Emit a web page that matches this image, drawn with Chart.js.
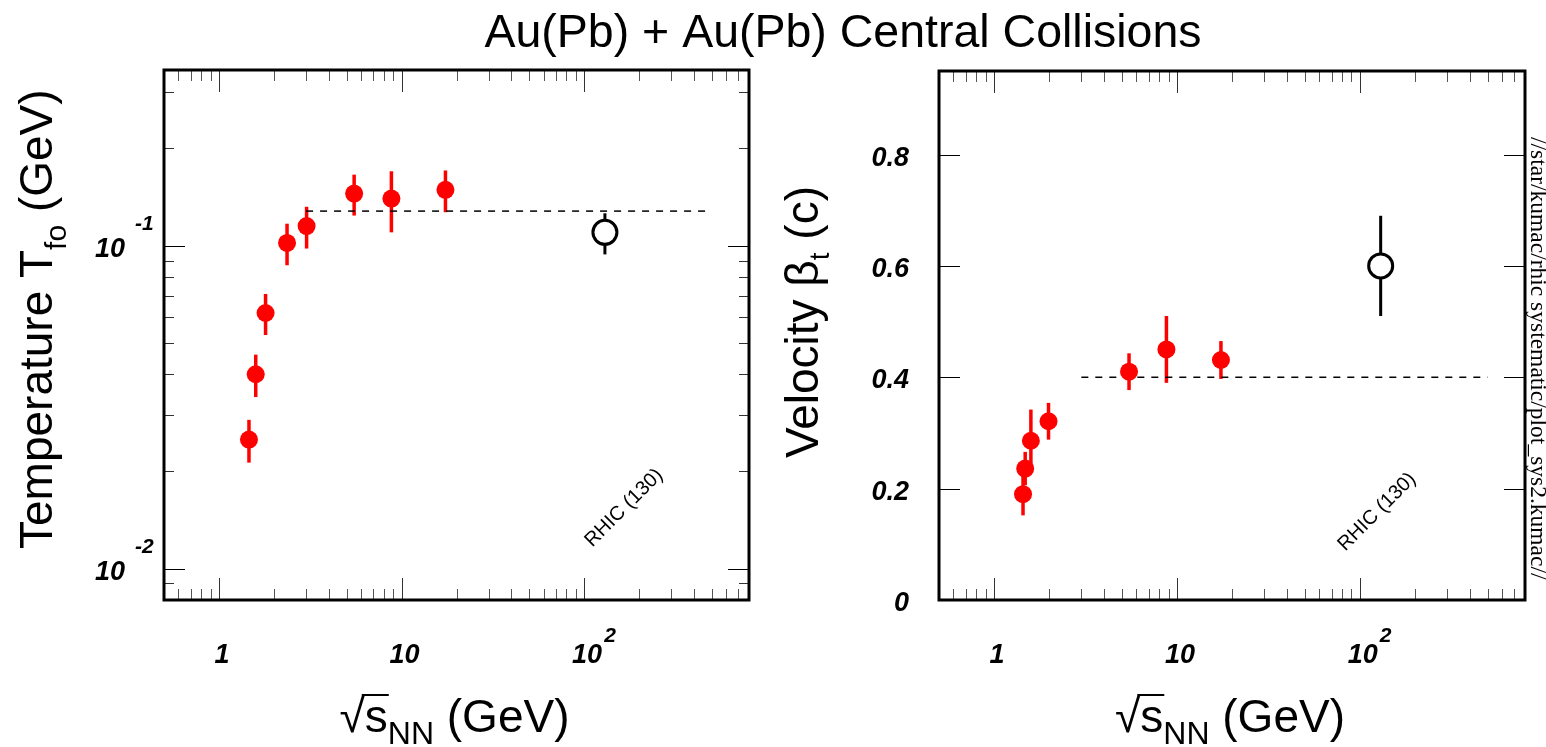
<!DOCTYPE html>
<html>
<head>
<meta charset="utf-8">
<title>Au(Pb) + Au(Pb) Central Collisions</title>
<script src="https://cdn.jsdelivr.net/npm/chart.js@4/dist/chart.umd.min.js"></script>
<style>
  html, body { margin: 0; padding: 0; background: #fff; }
  #wrap { position: relative; width: 1546px; height: 747px; }
  #wrap canvas { position: absolute; left: 0; top: 0; }
</style>
</head>
<body>
<div id="wrap">
  <canvas id="tempChart" width="1546" height="747"></canvas>
  <canvas id="flowChart" width="1546" height="747"></canvas>
</div>
<script>
// ---- values ----
const tempEnergy = [1.46, 1.59, 1.80, 2.36, 3.02, 5.50, 8.80, 17.4];
const tempValue  = [0.0251, 0.040, 0.0619, 0.102, 0.115, 0.145, 0.140, 0.149];
const tempError  = [0.0038, 0.006, 0.009, 0.015, 0.017, 0.021, 0.030, 0.022];

const flowEnergy = [1.44, 1.48, 1.59, 1.985, 5.47, 8.76, 17.4];
const flowValue  = [0.190, 0.236, 0.286, 0.321, 0.410, 0.450, 0.431];
const flowError  = [0.038, 0.030, 0.056, 0.033, 0.033, 0.060, 0.034];

const rhicEnergy    = [130];
const rhicTemp      = [0.110];
const rhicTempError = [0.016];
const rhicFlow      = [0.60];
const rhicFlowError = [0.09];

// dashed reference levels
const fitEnergy = [3, 500];
const tempFit   = [0.128, 0.128];
const flowFit   = [0.40, 0.40];

// axis ticks and labels
const xTicks = [1, 10, 100];
const xTickLabels = [['1', ''], ['10', ''], ['10', '2']];
const tempTicks = [0.01, 0.1];
const tempTickLabels = [['10', '-2'], ['10', '-1']];
const flowTicks = [0, 0.2, 0.4, 0.6, 0.8];
const flowTickLabels = ['0', '0.2', '0.4', '0.6', '0.8'];

const SANS = "'Liberation Sans', Arial, Helvetica, sans-serif";
const SERIF = "'Liberation Serif', 'Times New Roman', serif";

// minor log ticks (2..9 in each decade) inside a range
function minorLog(lo, hi) {
    const out = [];
    for (let d = -4; d <= 4; d++) {
        for (let k = 2; k <= 9; k++) {
            const v = k * Math.pow(10, d);
            if (v > lo * 1.001 && v < hi * 0.999) out.push(v);
        }
    }
    return out;
}
const xMinor = minorLog(0.5, 800);
const tempMinor = minorLog(0.008, 0.35);

function pts(xs, ys) {
    return xs.map((x, i) => ({ x: x, y: ys[i] }));
}

// draw a run of text pieces, each with its own font and baseline shift
function drawRich(ctx, parts, x, y) {
    ctx.textAlign = 'left';
    ctx.textBaseline = 'alphabetic';
    for (const p of parts) {
        ctx.font = p.font;
        ctx.fillText(p.t, x, y + (p.dy || 0));
        x += ctx.measureText(p.t).width;
    }
}

function drawEnergyTitle(ctx, cx, base) {
    const big = '46px ' + SANS, small = '32px ' + SANS;
    ctx.font = big;
    const wRoot = ctx.measureText('\u221A').width;
    const wS = ctx.measureText('s').width;
    const wRest = ctx.measureText(' (GeV)').width;
    ctx.font = small;
    const wSub = ctx.measureText('NN').width;
    let x = cx - (wRoot + wS + wSub + wRest) / 2;
    ctx.fillStyle = '#000';
    ctx.textAlign = 'left';
    ctx.textBaseline = 'alphabetic';
    ctx.font = big;
    ctx.fillText('\u221A', x, base);
    x += wRoot;
    ctx.fillText('s', x, base);
    ctx.strokeStyle = '#000';
    ctx.lineWidth = 2;
    ctx.beginPath();
    ctx.moveTo(x - 3, base - 37);
    ctx.lineTo(x + wS + 1, base - 37);
    ctx.stroke();
    x += wS;
    ctx.font = small;
    ctx.fillText('NN', x, base + 12);
    x += wSub;
    ctx.font = big;
    ctx.fillText(' (GeV)', x, base);
}

// error bars under the markers
const errorBars = {
    id: 'errorBars',
    beforeDatasetsDraw(chart) {
        const ctx = chart.ctx;
        const yScale = chart.scales.y;
        chart.data.datasets.forEach((ds, i) => {
            if (!ds.errors) return;
            const meta = chart.getDatasetMeta(i);
            ctx.save();
            ctx.strokeStyle = ds.errorColor;
            ctx.lineWidth = ds.errorWidth;
            ds.data.forEach((d, j) => {
                const px = meta.data[j].x;
                ctx.beginPath();
                ctx.moveTo(px, yScale.getPixelForValue(d.y + ds.errors[j]));
                ctx.lineTo(px, yScale.getPixelForValue(d.y - ds.errors[j]));
                ctx.stroke();
            });
            ctx.restore();
        });
    }
};

// frame, inward ticks on all four sides, tick labels and titles
const frame = {
    id: 'frame',
    afterDraw(chart, args, o) {
        const ctx = chart.ctx;
        const a = chart.chartArea;
        const xs = chart.scales.x, ys = chart.scales.y;
        ctx.save();

        // ticks
        ctx.strokeStyle = '#000';
        ctx.lineWidth = 1;
        const tick = (v, len, horiz, col) => {
            ctx.strokeStyle = col;
            ctx.beginPath();
            if (horiz) {
                const px = Math.round(xs.getPixelForValue(v)) + 0.5;
                ctx.moveTo(px, a.bottom); ctx.lineTo(px, a.bottom - len);
                ctx.moveTo(px, a.top); ctx.lineTo(px, a.top + len);
            } else {
                const py = Math.round(ys.getPixelForValue(v)) + 0.5;
                ctx.moveTo(a.left, py); ctx.lineTo(a.left + len, py);
                ctx.moveTo(a.right, py); ctx.lineTo(a.right - len, py);
            }
            ctx.stroke();
        };
        xTicks.forEach(v => tick(v, 22, true, '#333'));
        xMinor.forEach(v => tick(v, 11, true, '#555'));
        o.yMajor.forEach(v => tick(v, 21, false, '#000'));
        o.yMinor.forEach(v => tick(v, 10, false, '#333'));

        // frame
        ctx.strokeStyle = '#000';
        ctx.lineWidth = 3;
        ctx.strokeRect(a.left, a.top, a.right - a.left, a.bottom - a.top);

        // x tick labels
        ctx.fillStyle = '#000';
        const tickFont = 'italic bold 27px ' + SANS;
        const supFont = 'italic bold 21px ' + SANS;
        xTicks.forEach((v, i) => {
            const px = xs.getPixelForValue(v) + 3;
            ctx.font = tickFont;
            ctx.textAlign = 'center';
            ctx.textBaseline = 'alphabetic';
            ctx.fillText(xTickLabels[i][0], px, 663);
            if (xTickLabels[i][1]) {
                const w = ctx.measureText(xTickLabels[i][0]).width;
                ctx.font = supFont;
                ctx.textAlign = 'left';
                ctx.fillText(xTickLabels[i][1], px + w / 2 + 2, 642);
            }
        });

        // y tick labels
        o.yLabels.forEach((lab, i) => {
            const py = ys.getPixelForValue(o.yMajor[i]);
            ctx.font = tickFont;
            ctx.textAlign = 'right';
            ctx.fillText(Array.isArray(lab) ? lab[0] : lab, a.left - o.labelGap, py + 11);
            if (Array.isArray(lab) && lab[1]) {
                ctx.font = supFont;
                ctx.textAlign = 'left';
                ctx.fillText(lab[1], a.left - o.labelGap + 10, py - 16);
            }
        });

        // x title
        drawEnergyTitle(ctx, (a.left + a.right) / 2 - 2, 732);

        // y title, rotated
        ctx.save();
        ctx.translate(o.yTitleX, o.yTitleY);
        ctx.rotate(-Math.PI / 2);
        ctx.fillStyle = '#000';
        drawRich(ctx, o.yTitle, 0, 0);
        ctx.restore();

        // RHIC label
        ctx.save();
        ctx.translate(o.rhicX, o.rhicY);
        ctx.rotate(-Math.PI / 4);
        ctx.font = '20px ' + SANS;
        ctx.textAlign = 'center';
        ctx.textBaseline = 'middle';
        ctx.fillText('RHIC (130)', 0, 0);
        ctx.restore();

        if (o.extra) o.extra(ctx);
        ctx.restore();
    }
};

function baseOptions(pad, yScale, frameOpts) {
    return {
        responsive: false,
        animation: false,
        events: [],
        layout: { padding: pad },
        plugins: {
            legend: { display: false },
            tooltip: { enabled: false },
            frame: frameOpts
        },
        scales: {
            x: { type: 'logarithmic', min: 0.5, max: 800, display: false },
            y: Object.assign({ display: false }, yScale)
        }
    };
}

function datasets(ex, ey, ee, rx, ry, re, fx, fy) {
    return [
        {
            data: pts(ex, ey), errors: ee, errorColor: '#ff0000', errorWidth: 3.5,
            pointRadius: 9, pointBackgroundColor: '#ff0000', pointBorderWidth: 0,
            showLine: false
        },
        {
            data: pts(rx, ry), errors: re, errorColor: '#000', errorWidth: 3,
            pointRadius: 12, pointBackgroundColor: '#fff', pointBorderColor: '#000',
            pointBorderWidth: 3, showLine: false
        },
        {
            data: pts(fx, fy), showLine: true, borderColor: '#000', borderWidth: 1.5,
            borderDash: [7, 7], pointRadius: 0, fill: false
        }
    ];
}

// ---- left panel: freeze-out temperature ----
new Chart(document.getElementById('tempChart'), {
    type: 'scatter',
    data: { datasets: datasets(tempEnergy, tempValue, tempError, rhicEnergy, rhicTemp,
                               rhicTempError, fitEnergy, tempFit) },
    options: baseOptions(
        { left: 164, right: 797, top: 70, bottom: 147 },
        { type: 'logarithmic', min: 0.008, max: 0.35 },
        {
            yMajor: tempTicks, yMinor: tempMinor, yLabels: tempTickLabels, labelGap: 39,
            yTitleX: 52, yTitleY: 549,
            yTitle: [
                { t: 'Temperature T', font: '46px ' + SANS },
                { t: 'fo', font: '30px ' + SANS, dy: 14 },
                { t: ' (GeV)', font: '46px ' + SANS }
            ],
            rhicX: 624, rhicY: 508,
            extra(ctx) {
                ctx.font = '46.5px ' + SANS;
                ctx.textAlign = 'center';
                ctx.textBaseline = 'alphabetic';
                ctx.fillText('Au(Pb) + Au(Pb) Central Collisions', 843, 47);
            }
        }
    ),
    plugins: [errorBars, frame]
});

// ---- right panel: transverse flow velocity ----
new Chart(document.getElementById('flowChart'), {
    type: 'scatter',
    data: { datasets: datasets(flowEnergy, flowValue, flowError, rhicEnergy, rhicFlow,
                               rhicFlowError, fitEnergy, flowFit) },
    options: baseOptions(
        { left: 939, right: 21, top: 71, bottom: 147 },
        { type: 'linear', min: 0, max: 0.95 },
        {
            yMajor: flowTicks, yMinor: [], yLabels: flowTickLabels, labelGap: 30,
            yTitleX: 818, yTitleY: 458,
            yTitle: [
                { t: 'Velocity \u03B2', font: '46px ' + SANS },
                { t: 't', font: '28px ' + SANS, dy: 11 },
                { t: ' (c)', font: '46px ' + SANS }
            ],
            rhicX: 1377, rhicY: 512,
            extra(ctx) {
                ctx.save();
                ctx.translate(1531, 137);
                ctx.rotate(Math.PI / 2);
                ctx.font = '23.5px ' + SERIF;
                ctx.textAlign = 'left';
                ctx.textBaseline = 'alphabetic';
                ctx.fillText('//star/kumac/rhic systematic/plot_sys2.kumac//', 0, 0);
                ctx.restore();
            }
        }
    ),
    plugins: [errorBars, frame]
});
</script>
</body>
</html>
